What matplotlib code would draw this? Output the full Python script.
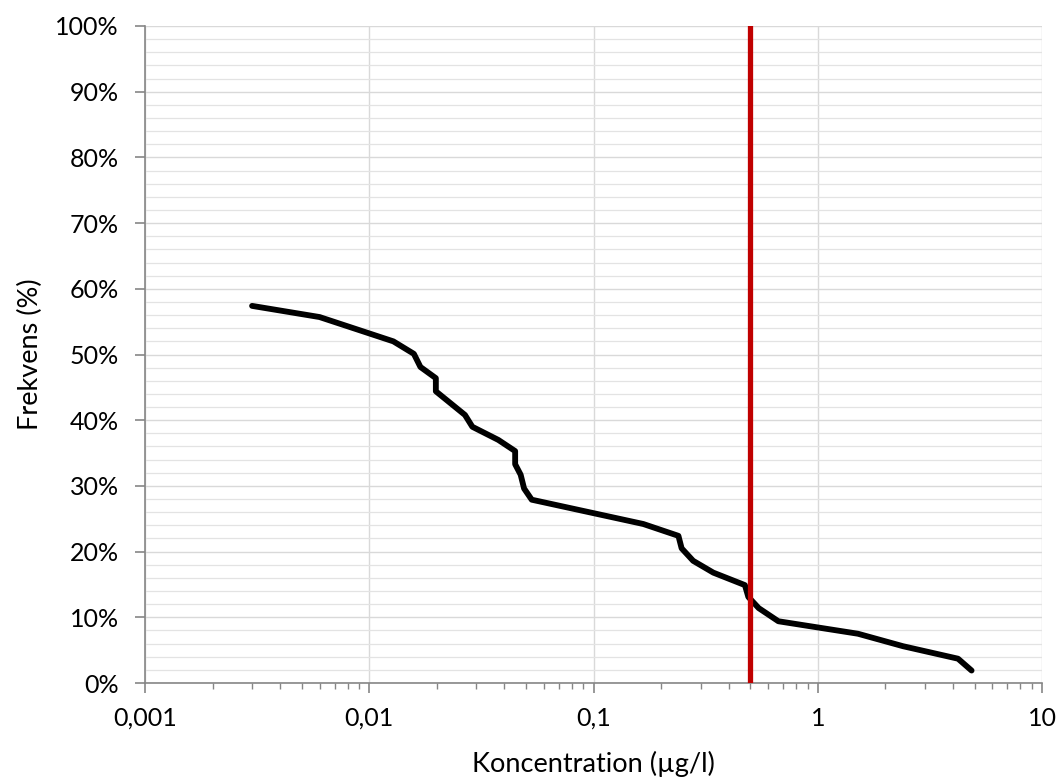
import matplotlib.pyplot as plt
from matplotlib.ticker import FixedLocator, MultipleLocator, LogLocator, NullFormatter, FuncFormatter

plt.rcParams['font.family'] = ['Lato', 'DejaVu Sans']

# curve
konc = [0.003, 0.006, 0.0128, 0.0158, 0.0169, 0.0198, 0.0198, 0.0267, 0.0288,
        0.0376, 0.0447, 0.0447, 0.0473, 0.049, 0.053, 0.1667, 0.239, 0.247,
        0.278, 0.342, 0.473, 0.49, 0.545, 0.667, 1.51, 2.40, 4.22, 4.85]
frekv = [57.4, 55.7, 52.0, 50.1, 48.1, 46.4, 44.4, 40.8, 39.0,
         37.0, 35.3, 33.3, 31.7, 29.6, 27.9, 24.2, 22.4, 20.5,
         18.6, 16.8, 14.9, 13.1, 11.4, 9.4, 7.5, 5.6, 3.7, 1.9]
graense = 0.5

x_ticks = [0.001, 0.01, 0.1, 1, 10]
x_labels = ['0,001', '0,01', '0,1', '1', '10']

fig = plt.figure(figsize=(10.59, 7.83), dpi=100)
ax = fig.add_axes([0.137, 0.1277, 0.847, 0.8391])

ax.plot(konc, frekv, color='black', lw=4.2, solid_capstyle='round', solid_joinstyle='round', zorder=3)
ax.plot([graense, graense], [0, 100], color='#C00000', lw=3.8, zorder=4)

ax.set_xscale('log')
ax.set_xlim(0.001, 10)
ax.set_ylim(0, 100)

ax.xaxis.set_major_locator(FixedLocator(x_ticks))
ax.xaxis.set_major_formatter(FuncFormatter(lambda v, p: x_labels[x_ticks.index(v)] if v in x_ticks else ''))
ax.xaxis.set_minor_locator(LogLocator(base=10, subs=range(2, 10)))
ax.xaxis.set_minor_formatter(NullFormatter())

ax.yaxis.set_major_locator(MultipleLocator(10))
ax.yaxis.set_minor_locator(MultipleLocator(2))
ax.yaxis.set_major_formatter(FuncFormatter(lambda v, p: f'{v:.0f}%'))

ax.grid(True, which='major', color='#d9d9d9', lw=1.0, zorder=0)
ax.grid(True, which='minor', axis='y', color='#e3e3e3', lw=0.9, zorder=0)

for s in ['top', 'right']:
    ax.spines[s].set_visible(False)
for s in ['left', 'bottom']:
    ax.spines[s].set_color('#868686')
    ax.spines[s].set_linewidth(1.2)

ax.tick_params(axis='both', which='major', direction='out', length=7, width=1.2,
               color='#868686', labelsize=18)
ax.tick_params(axis='y', which='major', pad=12)
ax.tick_params(axis='x', which='major', pad=10)
ax.tick_params(axis='x', which='minor', direction='out', length=4, width=1.0, color='#868686')
ax.tick_params(axis='y', which='minor', length=0)

ax.set_xlabel('Koncentration (µg/l)', fontsize=19.5, labelpad=15)
ax.set_ylabel('Frekvens (%)', fontsize=19.5, labelpad=9)

fig.savefig('out.png', dpi=100)
